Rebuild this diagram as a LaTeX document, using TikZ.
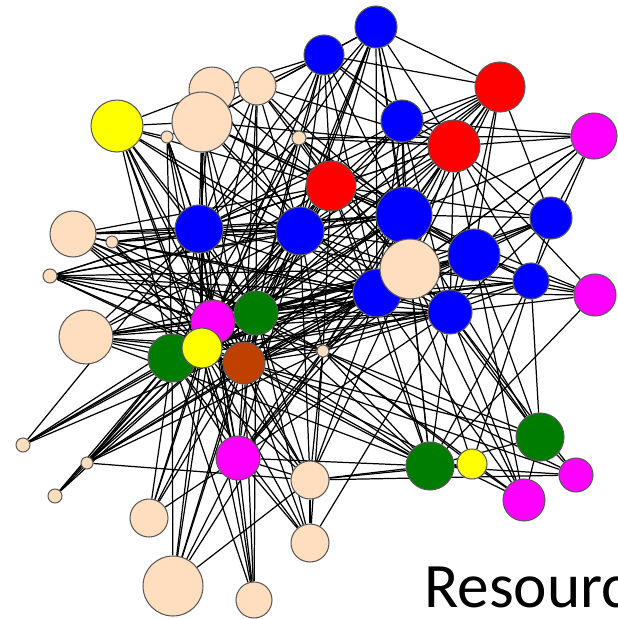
\documentclass[tikz,border=0pt]{standalone}
\usepackage{fontspec}
\setmainfont{Carlito}
\usepackage{tikz}
\usetikzlibrary{backgrounds}
\definecolor{peach}{RGB}{255,222,192}
\definecolor{dgreen}{RGB}{0,125,0}
\definecolor{rust}{RGB}{192,64,0}
\definecolor{mag}{RGB}{255,0,255}
\definecolor{ylw}{RGB}{255,255,0}
\definecolor{rd}{RGB}{255,0,0}
\definecolor{bl}{RGB}{0,0,255}
\tikzset{
  vtx/.style={circle,draw=black!65,line width=0.6pt,inner sep=0pt},
  conn/.style={black,line width=0.7pt},
}

\begin{document}
\begin{tikzpicture}[x=0.02cm,y=-0.02cm]
\useasboundingbox (0,0) rectangle (618,619);
%top blue pair and peach cluster
\node[vtx,fill=bl,minimum size=0.84cm] (b1) at (376,27) {};
\node[vtx,fill=bl,minimum size=0.80cm] (b2) at (324,55) {};
\node[vtx,fill=peach,minimum size=0.92cm] (t1) at (212,90) {};
\node[vtx,fill=peach,minimum size=0.76cm] (t2) at (257,86) {};
\node[vtx,fill=peach,minimum size=1.20cm] (t3) at (202,122) {};
\node[vtx,fill=ylw,minimum size=1.04cm] (y1) at (117,126) {};
\node[vtx,fill=peach,minimum size=0.24cm] (s1) at (167,137) {};
\node[vtx,fill=peach,minimum size=0.28cm] (s2) at (299,138) {};
%reds and upper right
\node[vtx,fill=rd,minimum size=1.00cm] (r1) at (500,87) {};
\node[vtx,fill=bl,minimum size=0.84cm] (b3) at (402,121) {};
\node[vtx,fill=rd,minimum size=1.04cm] (r2) at (454,146) {};
\node[vtx,fill=mag,minimum size=0.92cm] (m1) at (594,136) {};
\node[vtx,fill=rd,minimum size=1.00cm] (r3) at (331,186) {};
\node[vtx,fill=bl,minimum size=1.12cm] (b4) at (404,215) {};
\node[vtx,fill=bl,minimum size=0.84cm] (b5) at (551,218) {};
\node[vtx,fill=bl,minimum size=0.96cm] (b6) at (199,229) {};
\node[vtx,fill=bl,minimum size=0.96cm] (b7) at (300,231) {};
\node[vtx,fill=peach,minimum size=0.92cm] (p1) at (73,234) {};
\node[vtx,fill=peach,minimum size=0.24cm] (s3) at (112,242) {};
\node[vtx,fill=bl,minimum size=1.04cm] (b8) at (474,255) {};
\node[vtx,fill=bl,minimum size=0.72cm] (b9) at (531,281) {};
\node[vtx,fill=mag,minimum size=0.84cm] (m2) at (595,295) {};
\node[vtx,fill=peach,minimum size=0.28cm] (s4) at (50,276) {};
\node[vtx,fill=bl,minimum size=0.96cm] (b10) at (377,293) {};
\node[vtx,fill=peach,minimum size=1.20cm] (p2) at (410,269) {};
\node[vtx,fill=bl,minimum size=0.88cm] (b11) at (450,312) {};
%middle left cluster
\node[vtx,fill=mag,minimum size=0.88cm] (m3) at (213,322) {};
\node[vtx,fill=dgreen,minimum size=0.88cm] (g1) at (256,313) {};
\node[vtx,fill=peach,minimum size=1.08cm] (p3) at (86,337) {};
\node[vtx,fill=dgreen,minimum size=0.96cm] (g2) at (172,358) {};
\node[vtx,fill=ylw,minimum size=0.80cm] (y2) at (202,348) {};
\node[vtx,fill=rust,minimum size=0.84cm] (br) at (244,363) {};
\node[vtx,fill=peach,minimum size=0.24cm] (s5) at (323,351) {};
%lower part
\node[vtx,fill=peach,minimum size=0.28cm] (s6) at (23,445) {};
\node[vtx,fill=peach,minimum size=0.24cm] (s7) at (87,463) {};
\node[vtx,fill=peach,minimum size=0.28cm] (s8) at (55,496) {};
\node[vtx,fill=mag,minimum size=0.88cm] (m4) at (238,458) {};
\node[vtx,fill=peach,minimum size=0.76cm] (p4) at (310,480) {};
\node[vtx,fill=dgreen,minimum size=0.96cm] (g3) at (430,466) {};
\node[vtx,fill=ylw,minimum size=0.60cm] (y3) at (472,464) {};
\node[vtx,fill=dgreen,minimum size=0.96cm] (g4) at (540,437) {};
\node[vtx,fill=mag,minimum size=0.68cm] (m5) at (576,475) {};
\node[vtx,fill=mag,minimum size=0.84cm] (m6) at (524,500) {};
\node[vtx,fill=peach,minimum size=0.76cm] (p5) at (149,518) {};
\node[vtx,fill=peach,minimum size=0.76cm] (p6) at (310,543) {};
\node[vtx,fill=peach,minimum size=1.20cm] (p7) at (173,586) {};
\node[vtx,fill=peach,minimum size=0.72cm] (p8) at (254,600) {};
%caption, cut by the page edge
\node[anchor=base west,inner sep=0pt,font=\fontsize{36}{40}\selectfont] (cap) at (424,607) {Resourc};
%links behind the vertices
\begin{scope}[on background layer]
\draw[conn] (b1) edge (b2) edge (r1) edge (r2) edge (b3) edge (r3) edge (b4) edge (b7) edge (b10) edge (p2) edge (s2) edge (t3) edge (b6) edge (g1) edge (br);
\draw[conn] (b2) edge (t2) edge (t1) edge (t3) edge (r1) edge (b3) edge (r2) edge (r3) edge (b4) edge (b7) edge (b6) edge (b10) edge (s2) edge (g1) edge (m3);
\draw[conn] (y1) edge (t1) edge (s1) edge (t3) edge (b7) edge (b6) edge (g2) edge (m3) edge (y2) edge (g1) edge (br) edge (m4) edge (r3) edge (b10);
\draw[conn] (s1) edge (b6) edge (g2) edge (y2) edge (m3) edge (br) edge (t2);
\draw[conn] (t1) edge (t2) edge (b7) edge (r3) edge (b6);
\draw[conn] (t2) edge (b7) edge (r3) edge (b4) edge (b6) edge (g1) edge (br) edge (y2) edge (p2) edge (r2);
\draw[conn] (t3) edge (b6) edge (b7) edge (r3) edge (b4) edge (b10) edge (g1) edge (r2) edge (b8) edge (y2) edge (m3) edge (br);
\draw[conn] (s2) edge (b6) edge (r3) edge (y2) edge (br) edge (g2) edge (m3) edge (b4) edge (r2) edge (b8) edge (m1);
\draw[conn] (r1) edge (b3) edge (r2) edge (r3) edge (b4) edge (b5) edge (b7) edge (p2) edge (b8) edge (b10) edge (g1) edge (m3) edge (b6) edge (b11);
\draw[conn] (b3) edge (m1) edge (r2) edge (r3) edge (b4) edge (b7) edge (p2) edge (b6) edge (g1) edge (b10) edge (b11);
\draw[conn] (r2) edge (m1) edge (b4) edge (r3) edge (p2) edge (b8) edge (b5) edge (b9) edge (b10) edge (b7) edge (g1) edge (br) edge (b6) edge (m3) edge (b11) edge (s5);
\draw[conn] (m1) edge (b4) edge (p2) edge (b8) edge (b5) edge (b10) edge (b9);
\draw[conn] (b5) edge (b8) edge (b4) edge (p2) edge (b9) edge (r3) edge (b10) edge (b11) edge (g1);
\draw[conn] (r3) edge (b7) edge (b4) edge (p2) edge (b6) edge (b10) edge (g1) edge (m3) edge (y2) edge (br) edge (g2) edge (b8) edge (b11) edge (s5) edge (p1) edge (s4) edge (p3) edge (g3);
\draw[conn] (b4) edge (b7) edge (p2) edge (b10) edge (b8) edge (b11) edge (g1) edge (m3) edge (y2) edge (br) edge (g2) edge (b6) edge (s5) edge (b9) edge (m2) edge (p1) edge (s4) edge (s3) edge (g3) edge (g4) edge (m4);
\draw[conn] (b6) edge (b7) edge (p1) edge (g1) edge (m3) edge (y2) edge (br) edge (g2) edge (p3) edge (s3) edge (s4) edge (b10) edge (p2) edge (m4) edge (s6);
\draw[conn] (b7) edge (b10) edge (p2) edge (g1) edge (m3) edge (y2) edge (br) edge (g2) edge (s5) edge (p1) edge (s3) edge (s4) edge (p3) edge (b11) edge (b8) edge (m4) edge (p4);
\draw[conn] (p1) edge (g1) edge (m3) edge (y2) edge (br) edge (b10) edge (s5) edge (b11);
\draw[conn] (s3) edge (g1) edge (y2) edge (b10) edge (br);
\draw[conn] (b8) edge (p2) edge (b10) edge (b11) edge (b9) edge (m2) edge (g1) edge (br) edge (s5) edge (y2) edge (m3) edge (g4) edge (m6);
\draw[conn] (b9) edge (p2) edge (b10) edge (b11) edge (m2) edge (g1) edge (br) edge (m3) edge (g3) edge (y3) edge (g4);
\draw[conn] (m2) edge (b10) edge (b11) edge (r2) edge (g3) edge (p2);
\draw[conn] (s4) edge (g1) edge (m3) edge (y2) edge (br) edge (b11) edge (p2) edge (s5) edge (b10);
\draw[conn] (b10) edge (p2) edge (b11) edge (g1) edge (m3) edge (y2) edge (br) edge (g2) edge (s5) edge (p3) edge (m4) edge (p4) edge (g3) edge (m6) edge (s6) edge (s7);
\draw[conn] (p2) edge (b11) edge (g1) edge (m3) edge (y2) edge (br) edge (g2) edge (s5) edge (p3) edge (m4) edge (g3) edge (g4) edge (m6) edge (p4) edge (y3) edge (s7);
\draw[conn] (b11) edge (g1) edge (m3) edge (y2) edge (br) edge (g2) edge (s5) edge (m4) edge (g3) edge (g4) edge (m5) edge (m6) edge (p6) edge (p3);
\draw[conn] (g1) edge (m3) edge (y2) edge (br) edge (g2) edge (s5) edge (p3) edge (m4) edge (s6) edge (s7) edge (s8) edge (p5) edge (p7) edge (p8) edge (p6) edge (p4) edge (g3);
\draw[conn] (m3) edge (y2) edge (g2) edge (br) edge (p3) edge (s6) edge (s7) edge (s8) edge (m4) edge (p5) edge (p7) edge (p8) edge (p4) edge (g3);
\draw[conn] (p3) edge (g2) edge (y2) edge (br) edge (s5) edge (g3);
\draw[conn] (g2) edge (y2) edge (br) edge (s7) edge (s8) edge (s6) edge (p5) edge (p7) edge (m4) edge (p8) edge (p4) edge (p6);
\draw[conn] (y2) edge (br) edge (s6) edge (s7) edge (s8) edge (m4) edge (p5) edge (p7) edge (p8) edge (p4) edge (p6) edge (g3);
\draw[conn] (br) edge (s5) edge (m4) edge (p4) edge (p6) edge (p7) edge (p8) edge (s7) edge (g3) edge (g4) edge (m5) edge (m6) edge (p5);
\draw[conn] (s5) edge (m4) edge (p4) edge (p6) edge (g3) edge (g4) edge (y3) edge (m5) edge (m6) edge (p7) edge (s7);
\draw[conn] (m4) edge (p4) edge (p8) edge (p7) edge (p6) edge (g3) edge (p5);
\draw[conn] (p4) edge (p6) edge (g3) edge (y3) edge (s7) edge (p7) edge (m5);
\draw[conn] (g3) edge (y3) edge (m5) edge (g4);
\draw[conn] (g4) edge (m5) edge (m6);
\draw[conn] (y3) edge (m6);
\end{scope}
\end{tikzpicture}
\end{document}
